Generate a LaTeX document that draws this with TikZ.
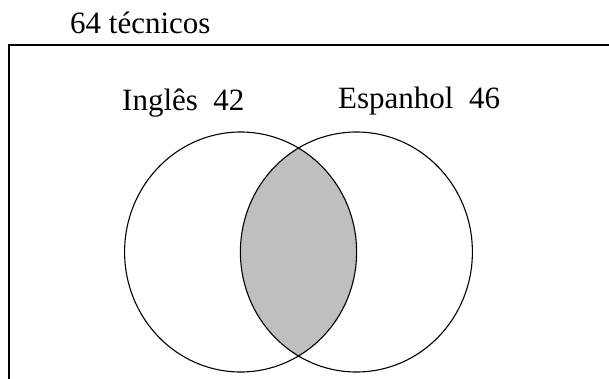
\documentclass[tikz,border=0pt]{standalone}
\usepackage{fontspec}
\setmainfont{Liberation Serif}
\begin{document}
\begin{tikzpicture}[x=1pt,y=-1pt,
  lbl/.style={anchor=base west,inner sep=0pt,font=\fontsize{31}{31}\selectfont},
  frame/.style={line width=2pt,black},
  setline/.style={line width=1.1pt,black}]
\useasboundingbox (0,0) rectangle (609,378);
\fill[white] (0,0) rectangle (609,378);
% intersection shading
\begin{scope}
  \clip (240.6,252) ellipse [x radius=116, y radius=120];
  \fill[black!25] (356.4,252) ellipse [x radius=116, y radius=120];
\end{scope}
\draw[setline] (240.6,252) ellipse [x radius=116, y radius=120];
\draw[setline] (356.4,252) ellipse [x radius=116, y radius=120];
% universe frame
\coordinate (tl) at (8.5,45);
\coordinate (tr) at (615,45);
\coordinate (bl) at (8.5,385);
\draw[frame] (tr) -- (tl) -- (bl);
% labels
\node[lbl] (univ) at (70,33) {64 técnicos};
\node[lbl] (ing) at (122,110) {Inglês\ \ 42};
\node[lbl] (esp) at (338,108) {Espanhol\ \ 46};
\end{tikzpicture}
\end{document}
